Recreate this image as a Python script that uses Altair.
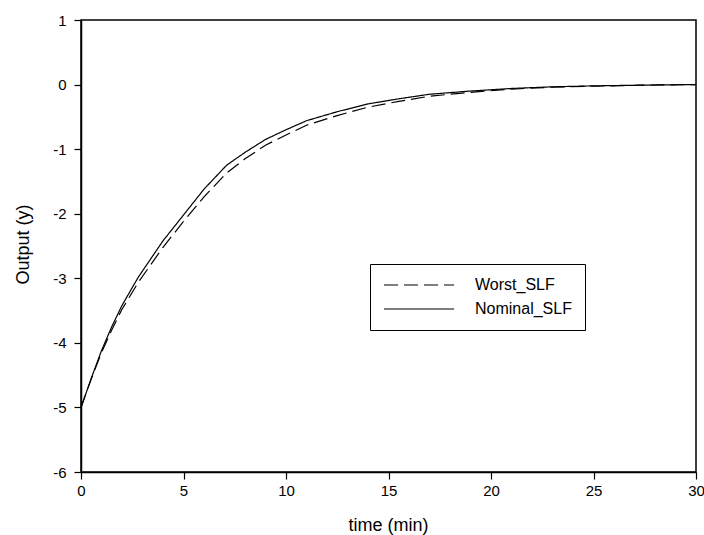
import altair as alt
import pandas as pd

time_min = [0, 0.5, 1, 1.5, 2, 2.8, 4, 5, 6, 7.1, 8, 9, 10, 11, 12.5, 14, 15.5, 17, 19, 21, 23, 25, 27.5, 30]
nominal_slf = [-5.00, -4.55, -4.12, -3.75, -3.42, -2.98, -2.42, -2.02, -1.62, -1.25, -1.05, -0.85,
               -0.70, -0.56, -0.42, -0.30, -0.22, -0.15, -0.10, -0.06, -0.035, -0.02, -0.008, 0.0]
worst_slf = [-5.00, -4.56, -4.15, -3.80, -3.48, -3.06, -2.52, -2.12, -1.74, -1.37, -1.15, -0.94,
             -0.78, -0.63, -0.48, -0.35, -0.26, -0.18, -0.12, -0.07, -0.04, -0.025, -0.01, 0.0]
series_names = ["Worst_SLF", "Nominal_SLF"]
x_ticks = [0, 5, 10, 15, 20, 25, 30]
y_ticks = [-6, -5, -4, -3, -2, -1, 0, 1]

df = pd.concat([
    pd.DataFrame({"time": time_min, "output": worst_slf, "series": series_names[0]}),
    pd.DataFrame({"time": time_min, "output": nominal_slf, "series": series_names[1]}),
])

FONT = "Liberation Sans"

chart = alt.Chart(df).mark_line(color="black", strokeWidth=1.2).encode(
    x=alt.X("time:Q", scale=alt.Scale(domain=[0, 30], nice=False, zero=False),
            axis=alt.Axis(values=x_ticks, title="time (min)", grid=False, tickSize=7,
                          labelPadding=4, labelFontSize=15, labelFont=FONT, labelColor="black",
                          labelExpr="'' + datum.value",
                          titleFont=FONT, titleFontSize=18, titleFontWeight="normal", titleColor="black",
                          titleX=307, titleY=58, titleBaseline="alphabetic", titleAlign="center",
                          domainColor="black", domainWidth=1.5, tickColor="black", tickWidth=1.2,
                          labelFlush=False)),
    y=alt.Y("output:Q", scale=alt.Scale(domain=[-6, 1], nice=False, zero=False),
            axis=alt.Axis(values=y_ticks, title="Output (y)", grid=False, tickSize=7,
                          labelPadding=8, labelFontSize=15, labelFont=FONT, labelColor="black",
                          labelExpr="'' + datum.value",
                          titleFont=FONT, titleFontSize=18, titleFontWeight="normal", titleColor="black",
                          titleAngle=270, titleX=-53, titleY=224, titleBaseline="alphabetic",
                          titleAlign="center",
                          domainColor="black", domainWidth=1.5, tickColor="black", tickWidth=1.2)),
    strokeDash=alt.StrokeDash(
        "series:N",
        scale=alt.Scale(domain=series_names, range=[[14, 6], [1, 0]]),
        legend=alt.Legend(title=None, orient="none", legendX=289, legendY=244,
                          symbolType="stroke", symbolSize=4900, symbolStrokeWidth=1.2,
                          symbolStrokeColor="black", symbolOpacity=1, clipHeight=16, rowPadding=8,
                          labelOffset=20, labelFontSize=16, labelFont=FONT, labelColor="black",
                          padding=13, strokeColor="black", fillColor="white"),
    ),
).properties(
    width=615, height=452,
    padding={"left": 81, "top": 20, "right": 8, "bottom": 63},
    autosize="none",
    background="white",
).configure_view(stroke="black", strokeWidth=1.5)

chart.save("out.html", embed_options={"renderer": "svg", "actions": False})
